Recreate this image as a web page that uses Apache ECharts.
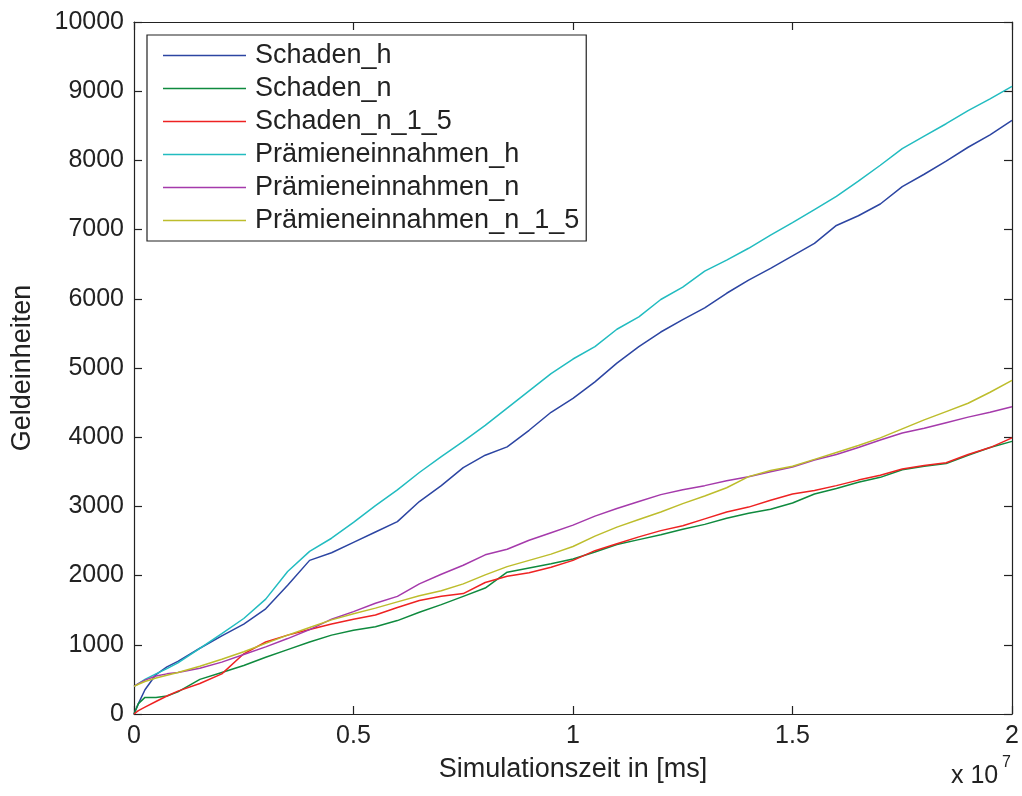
<!DOCTYPE html>
<html>
<head>
<meta charset="utf-8">
<script src="https://cdn.jsdelivr.net/npm/echarts@6/dist/echarts.min.js"></script>
<style>
html,body{margin:0;padding:0;background:#fff;}
#c{width:1022px;height:796px;}
</style>
</head>
<body>
<div id="c"></div>
<script>
// x values in units of 10^7 ms
const xs = [0,0.01,0.025,0.05,0.075,0.1,0.15,0.2,0.25,0.3,0.35,0.4,0.45,0.5,0.55,0.6,0.65,0.7,0.75,0.8,0.85,0.9,0.95,1.0,1.05,1.1,1.15,1.2,1.25,1.3,1.35,1.4,1.45,1.5,1.55,1.6,1.65,1.7,1.75,1.8,1.85,1.9,1.95,2.0];

const schaden_h = [0,150,350,570,680,760,950,1130,1300,1520,1860,2220,2330,2480,2630,2780,3070,3300,3560,3740,3860,4100,4360,4560,4800,5070,5310,5520,5700,5870,6080,6270,6440,6620,6800,7060,7200,7370,7620,7800,7990,8190,8370,8580];
const schaden_n = [0,150,240,240,260,320,500,600,700,820,930,1040,1140,1210,1260,1350,1470,1580,1700,1820,2050,2110,2170,2240,2340,2450,2520,2590,2670,2740,2830,2900,2960,3050,3180,3260,3350,3420,3530,3580,3620,3740,3850,3940];
const schaden_n_1_5 = [0,50,100,180,260,330,440,580,870,1040,1140,1220,1300,1370,1430,1540,1640,1700,1740,1900,1990,2040,2120,2220,2360,2460,2560,2650,2720,2820,2920,2990,3090,3180,3230,3300,3380,3450,3540,3590,3630,3750,3850,3990];
const praemien_h = [400,440,500,580,655,740,950,1160,1380,1660,2060,2350,2540,2770,3010,3240,3490,3720,3940,4170,4420,4670,4920,5130,5310,5560,5740,5990,6170,6400,6560,6730,6920,7100,7290,7480,7700,7930,8170,8350,8530,8720,8890,9070];
const praemien_n = [400,440,490,550,580,600,660,750,860,970,1090,1220,1370,1480,1600,1700,1880,2020,2150,2300,2380,2510,2620,2730,2860,2970,3070,3170,3240,3300,3370,3430,3500,3570,3670,3750,3850,3960,4060,4130,4210,4290,4360,4440];
const praemien_n_1_5 = [400,430,470,520,560,600,690,790,900,1020,1140,1250,1360,1450,1530,1620,1710,1780,1880,2010,2130,2220,2310,2420,2570,2700,2810,2920,3040,3150,3270,3430,3520,3580,3680,3780,3880,3990,4120,4250,4370,4490,4650,4820];

const seriesNames = ['Schaden_h','Schaden_n','Schaden_n_1_5','Prämieneinnahmen_h','Prämieneinnahmen_n','Prämieneinnahmen_n_1_5'];
const seriesValues = [schaden_h, schaden_n, schaden_n_1_5, praemien_h, praemien_n, praemien_n_1_5];
const colors = ['#2c45a2','#0f8a3e','#ee2222','#22bcc0','#a53aab','#bdbd2c'];

const FONT = "'Liberation Sans', Arial, Helvetica, sans-serif";

const chart = echarts.init(document.getElementById('c'), null, {renderer:'canvas'});

const axisCommon = {
  axisLine:{show:true, onZero:false, lineStyle:{color:'#222', width:1.2}},
  axisTick:{show:true, inside:true, length:8, lineStyle:{color:'#222', width:1.2}},
  splitLine:{show:false}
};

chart.setOption({
  backgroundColor:'#fff',
  animation:false,
  color: colors,
  grid:{left:134, right:10, top:22, bottom:82},
  legend:{
    orient:'vertical', left:147, top:35,
    backgroundColor:'#fff', borderColor:'#222', borderWidth:1.2,
    padding:[7,7,7,16],
    icon:'rect',
    itemWidth:83, itemHeight:1.6, itemGap:6,
    textStyle:{fontFamily:FONT, fontSize:27, lineHeight:27, color:'#222', padding:[0,0,0,4]},
    data: seriesNames
  },
  xAxis:[
    Object.assign({type:'value', min:0, max:2, interval:0.5, position:'bottom',
      name:'Simulationszeit in [ms]', nameLocation:'middle', nameGap:42,
      nameTextStyle:{fontFamily:FONT, fontSize:27, color:'#222'},
      axisLabel:{fontFamily:FONT, fontSize:25, color:'#222', margin:10, formatter:v => String(v)}}, axisCommon),
    Object.assign({type:'value', min:0, max:2, interval:0.5, position:'top',
      axisLabel:{show:false}}, axisCommon)
  ],
  yAxis:[
    Object.assign({type:'value', min:0, max:10000, interval:1000, position:'left',
      name:'Geldeinheiten', nameLocation:'middle', nameGap:98,
      nameTextStyle:{fontFamily:FONT, fontSize:27, color:'#222'},
      axisLabel:{fontFamily:FONT, fontSize:25, color:'#222', margin:10, formatter:v => String(v)}}, axisCommon),
    Object.assign({type:'value', min:0, max:10000, interval:1000, position:'right',
      axisLabel:{show:false}}, axisCommon)
  ],
  graphic:[
    {type:'text', left:951, top:764, style:{text:'x 10', font:"25px 'Liberation Sans', Arial, sans-serif", fill:'#222'}},
    {type:'text', left:1002, top:755, style:{text:'7', font:"16px 'Liberation Sans', Arial, sans-serif", fill:'#222'}}
  ],
  series: seriesNames.map((n, k) => ({
    name:n, type:'line', xAxisIndex:0, yAxisIndex:0,
    symbol:'none', showSymbol:false,
    lineStyle:{width:1.5, color:colors[k]},
    itemStyle:{color:colors[k]},
    z: 2 + k,
    data: xs.map((x, i) => [x, seriesValues[k][i]])
  }))
});
</script>
</body>
</html>
